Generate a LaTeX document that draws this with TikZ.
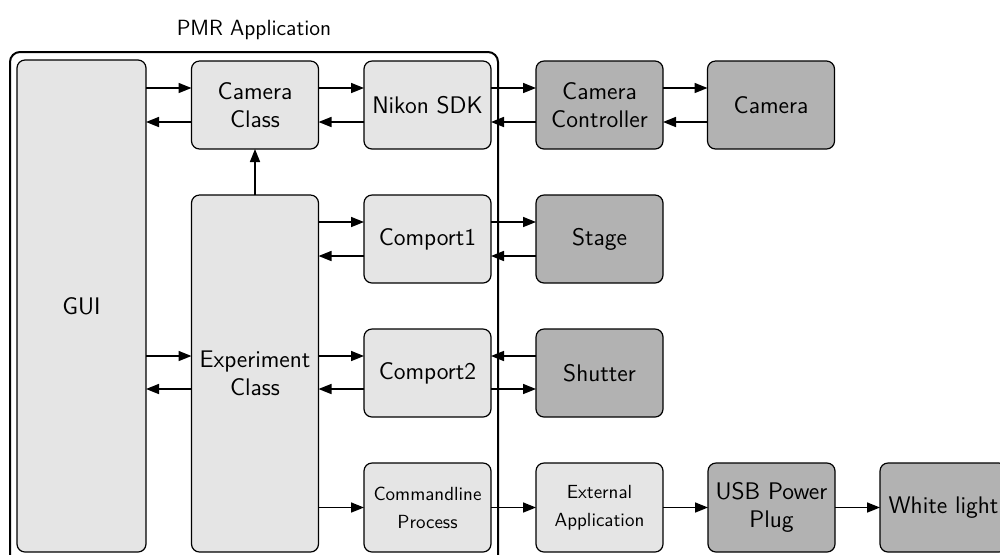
\documentclass[tikz,border=0pt]{standalone}
\usepackage{fontspec}
\usetikzlibrary{calc,arrows.meta}
\renewcommand{\familydefault}{\sfdefault}
\begin{document}
\begin{tikzpicture}[x=0.5pt,y=-0.5pt,
  blk/.style={draw, line width=0.6pt, rounded corners=4pt, fill=gray!20,
    minimum width=63.5pt, minimum height=44pt, inner sep=0pt, outer sep=0pt,
    align=center, font=\fontsize{12}{14}\selectfont},
  ext/.style={blk, fill=gray!60},
  small/.style={font=\fontsize{9.5}{14}\selectfont},
  arr/.style={line width=0.8pt, -{Triangle[length=6.5pt,width=5pt]}},
  frame/.style={draw, line width=1pt, rounded corners=5pt}]
\useasboundingbox (0,0) rectangle (1000,554);

% application frame and title
\draw[frame] (10,580) -- (10,52) -- (498,52) -- (498,580);
\node[font=\fontsize{11}{13}\selectfont] (title) at (254,30) {PMR Application};

% blocks inside the application
\node[blk, minimum width=64.5pt, minimum height=246pt] (gui) at (81.5,306) {GUI};
\node[blk] (cam) at (255,105) {Camera\\Class};
\node[blk, minimum height=178.5pt] (exp) at (255,373.5) {Experiment\\Class};
\node[blk] (sdk) at (427.5,105) {Nikon SDK};
\node[blk] (cp1) at (427.5,239) {Comport1};
\node[blk] (cp2) at (427.5,373) {Comport2};
\node[blk, small, minimum height=44.5pt] (cmd) at (427.5,507.5) {Commandline\\Process};

% external hardware and software
\node[ext] (ctrl) at (599.5,105) {Camera\\Controller};
\node[ext] (camera) at (771,105) {Camera};
\node[ext] (stage) at (599.5,239) {Stage};
\node[ext] (shutter) at (599.5,373) {Shutter};
\node[blk, small, minimum height=44.5pt] (extapp) at (599.5,507.5) {External\\Application};
\node[ext, minimum height=44.5pt] (usb) at (771.5,507.5) {USB Power\\Plug};
\node[ext, minimum height=44.5pt] (light) at (943.5,507.5) {White light};

% camera chain
\draw[arr] ($(gui.east|-cam.west)+(0,-17)$) -- ($(cam.west)+(0,-17)$);
\draw[arr] ($(cam.west)+(0,17)$) -- ($(gui.east|-cam.west)+(0,17)$);
\draw[arr] ($(cam.east)+(0,-17)$) -- ($(sdk.west)+(0,-17)$);
\draw[arr] ($(sdk.west)+(0,17)$) -- ($(cam.east)+(0,17)$);
\draw[arr] ($(sdk.east)+(0,-17)$) -- ($(ctrl.west)+(0,-17)$);
\draw[arr] ($(ctrl.west)+(0,17)$) -- ($(sdk.east)+(0,17)$);
\draw[arr] ($(ctrl.east)+(0,-17)$) -- ($(camera.west)+(0,-17)$);
\draw[arr] ($(camera.west)+(0,17)$) -- ($(ctrl.east)+(0,17)$);

% experiment to camera
\draw[arr] (exp.north) -- (cam.south);

% stage
\draw[arr] ($(exp.east|-cp1.west)+(0,-17)$) -- ($(cp1.west)+(0,-17)$);
\draw[arr] ($(cp1.west)+(0,17)$) -- ($(exp.east|-cp1.west)+(0,17)$);
\draw[arr] ($(cp1.east)+(0,-17)$) -- ($(stage.west)+(0,-17)$);
\draw[arr] ($(stage.west)+(0,17)$) -- ($(cp1.east)+(0,17)$);

% GUI and experiment
\draw[arr] ($(gui.east|-cp2.west)+(0,-17)$) -- ($(exp.west|-cp2.west)+(0,-17)$);
\draw[arr] ($(exp.west|-cp2.west)+(0,16)$) -- ($(gui.east|-cp2.west)+(0,16)$);

% shutter
\draw[arr] ($(exp.east|-cp2.west)+(0,-17)$) -- ($(cp2.west)+(0,-17)$);
\draw[arr] ($(cp2.west)+(0,16)$) -- ($(exp.east|-cp2.west)+(0,16)$);
\draw[arr] ($(shutter.west)+(0,-17)$) -- ($(cp2.east)+(0,-17)$);
\draw[arr] ($(cp2.east)+(0,16)$) -- ($(shutter.west)+(0,16)$);

% white light
\draw[arr] (exp.east|-cmd.west) -- (cmd.west);
\draw[arr] (cmd.east) -- (extapp.west);
\draw[arr] (extapp.east) -- (usb.west);
\draw[arr] (usb.east) -- (light.west);
\end{tikzpicture}
\end{document}
